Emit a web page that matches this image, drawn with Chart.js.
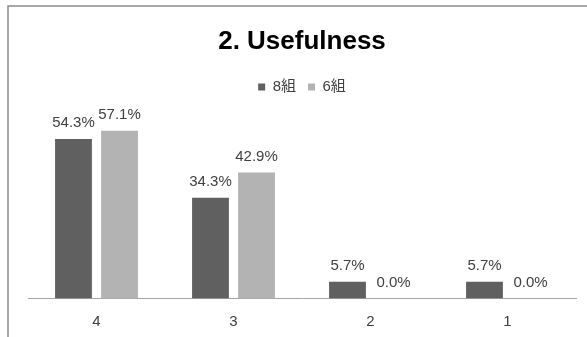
<!DOCTYPE html>
<html>
<head>
<meta charset="utf-8">
<script src="https://cdn.jsdelivr.net/npm/chart.js@4/dist/chart.umd.min.js"></script>
<style>
  html, body { margin: 0; padding: 0; background: #ffffff; }
  #wrap { width: 587px; height: 337px; position: relative; }
</style>
</head>
<body>
<div id="wrap"><canvas id="chart"></canvas></div>
<script>
// Ratings (4 = most useful) and share of answers per group, in percent
const categories = ['4', '3', '2', '1'];
const group8 = [54.3, 34.3, 5.7, 5.7];
const group6 = [57.1, 42.9, 0.0, 0.0];
const seriesNames = ['8組', '6組'];

const FONT = '"Liberation Sans", "Noto Sans CJK JP", sans-serif';

// Thin frame around the chart
const framePlugin = {
  id: 'frame',
  beforeDraw(chart) {
    const ctx = chart.ctx;
    ctx.save();
    ctx.fillStyle = '#ffffff';
    ctx.fillRect(0, 0, chart.width, chart.height);
    ctx.strokeStyle = '#8c8c8c';
    ctx.lineWidth = 1.5;
    ctx.strokeRect(8, 6, chart.width + 20, chart.height + 20);
    ctx.restore();
  }
};

// Percentage labels above every bar
const valueLabels = {
  id: 'valueLabels',
  afterDatasetsDraw(chart) {
    const ctx = chart.ctx;
    ctx.save();
    ctx.font = '15px ' + FONT;
    ctx.fillStyle = '#404040';
    ctx.textAlign = 'center';
    ctx.textBaseline = 'middle';
    chart.data.datasets.forEach((ds, i) => {
      const meta = chart.getDatasetMeta(i);
      meta.data.forEach((bar, j) => {
        ctx.fillText(ds.data[j].toFixed(1) + '%', bar.x, bar.y - 16);
      });
    });
    ctx.restore();
  }
};

new Chart(document.getElementById('chart'), {
  type: 'bar',
  data: {
    labels: categories,
    datasets: [
      { label: seriesNames[0], data: group8, backgroundColor: '#606060' },
      { label: seriesNames[1], data: group6, backgroundColor: '#b3b3b3' }
    ]
  },
  options: {
    responsive: true,
    maintainAspectRatio: false,
    animation: false,
    devicePixelRatio: 1,
    categoryPercentage: 0.672,
    barPercentage: 0.80,
    layout: { padding: { top: 0, left: 28, right: 11, bottom: 0 } },
    plugins: {
      title: {
        display: true,
        text: '2. Usefulness',
        color: '#000000',
        font: { family: FONT, size: 26, weight: 'bold', lineHeight: 1.2 },
        padding: { top: 26, bottom: 10.3 }
      },
      legend: {
        display: true,
        position: 'top',
        labels: {
          color: '#404040',
          font: { family: FONT, size: 15 },
          boxWidth: 7,
          boxHeight: 7,
          padding: 12
        }
      },
      tooltip: { enabled: false }
    },
    scales: {
      x: {
        grid: { display: false, drawTicks: false },
        border: { display: true, color: '#a6a6a6', width: 1 },
        ticks: { color: '#404040', font: { family: FONT, size: 15 }, padding: 14.5 },
        afterFit(scale) { scale.height = 38.5; }
      },
      y: {
        display: false,
        min: 0,
        max: 66
      }
    }
  },
  plugins: [framePlugin, valueLabels]
});
</script>
</body>
</html>
